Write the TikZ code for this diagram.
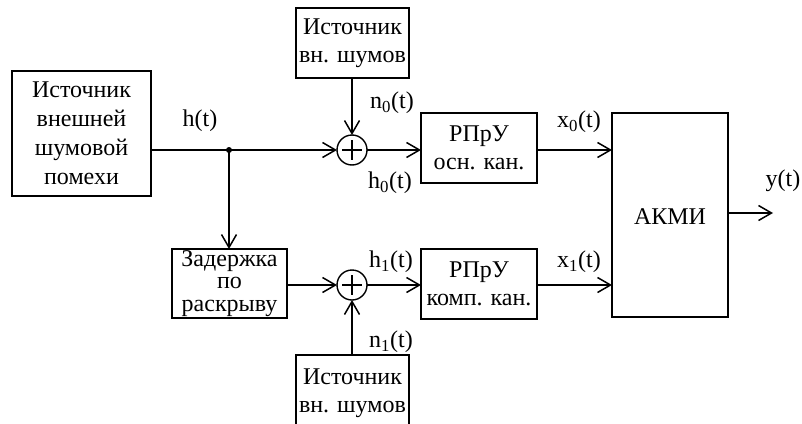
\documentclass[tikz,border=0pt]{standalone}
\usepackage{fontspec}
\setmainfont{Liberation Serif}
\usetikzlibrary{arrows.meta}
\begin{document}
\begin{tikzpicture}[x=1pt,y=-1pt,
  every node/.style={inner sep=0pt, outer sep=0pt},
  blk/.style={draw, line width=1.6pt, align=center, font=\fontsize{24}{29}\selectfont},
  lbl/.style={font=\fontsize{24}{28}\selectfont},
  sumc/.style={draw, circle, line width=1.4pt, minimum size=30pt},
  conn/.style={line width=1.6pt},
  arr/.style={conn, -{Straight Barb[length=13pt,width=15pt,line width=1.5pt]}}]
\useasboundingbox (0,0) rectangle (802,423);
% blocks
\node[blk, minimum width=139pt, minimum height=125pt] (src) at (81.5,133.5) {Источник\\внешней\\шумовой\\помехи};
\node[blk, minimum width=113pt, minimum height=70pt, font=\fontsize{24}{28}\selectfont] (ns0) at (352.5,43) {Источник\\вн. шумов};
\node[sumc] (sum0) at (352,150) {};
\node[blk, minimum width=116pt, minimum height=70pt, font=\fontsize{24}{28}\selectfont] (rpr0) at (479,148) {РПрУ\\осн. кан.};
\node[draw, line width=1.6pt, minimum width=116pt, minimum height=204pt] (akmi) at (670,215) {};
\node[lbl] (akmitext) at (670,217) {АКМИ};
\node[blk, minimum width=115pt, minimum height=69pt, font=\fontsize{24}{22.5}\selectfont] (delay) at (229.5,283.5) {Задержка\\по\\раскрыву};
\node[sumc] (sum1) at (352,285) {};
\node[blk, minimum width=116pt, minimum height=70pt, font=\fontsize{24}{28}\selectfont] (rpr1) at (479,284) {РПрУ\\комп. кан.};
\node[draw, line width=1.6pt, minimum width=113pt, minimum height=90pt] (ns1) at (352.5,400) {};
\node[lbl, align=center, font=\fontsize{24}{28}\selectfont] (ns1text) at (352.5,393) {Источник\\вн. шумов};
% plus signs
\draw[line width=1.2pt] (sum0.center) ++(-10,0) -- ++(20,0) (sum0.center) ++(0,-10) -- ++(0,20);
\draw[line width=1.2pt] (sum1.center) ++(-10,0) -- ++(20,0) (sum1.center) ++(0,-10) -- ++(0,20);
% junction
\coordinate (jn) at (229,150);
\fill (jn) circle (3pt);
\coordinate (out) at (773,213);
% connectors
\draw[conn] (src.east |- sum0) -- (jn);
\draw[arr] (jn) -- (sum0.west);
\draw[arr] (jn) -- (delay.north -| jn);
\draw[arr] (ns0.south -| sum0) -- (sum0.north);
\draw[arr] (sum0.east) -- (rpr0.west |- sum0);
\draw[arr] (rpr0.east |- sum0) -- (akmi.west |- sum0);
\draw[arr] (delay.east |- sum1) -- (sum1.west);
\draw[arr] (ns1.north -| sum1) -- (sum1.south);
\draw[arr] (sum1.east) -- (rpr1.west |- sum1);
\draw[arr] (rpr1.east |- sum1) -- (akmi.west |- sum1);
\draw[arr] (akmi.east |- out) -- (out);
% labels
\node[lbl] (lh) at (200,121) {h(t)};
\node[lbl] (ln0) at (392,103) {n\textsubscript{0}(t)};
\node[lbl] (lh0) at (390,183) {h\textsubscript{0}(t)};
\node[lbl] (lx0) at (579,122) {x\textsubscript{0}(t)};
\node[lbl] (ly) at (783,181) {y(t)};
\node[lbl] (lh1) at (391,262) {h\textsubscript{1}(t)};
\node[lbl] (lx1) at (579,262) {x\textsubscript{1}(t)};
\node[lbl] (ln1) at (391,342) {n\textsubscript{1}(t)};
\end{tikzpicture}
\end{document}
